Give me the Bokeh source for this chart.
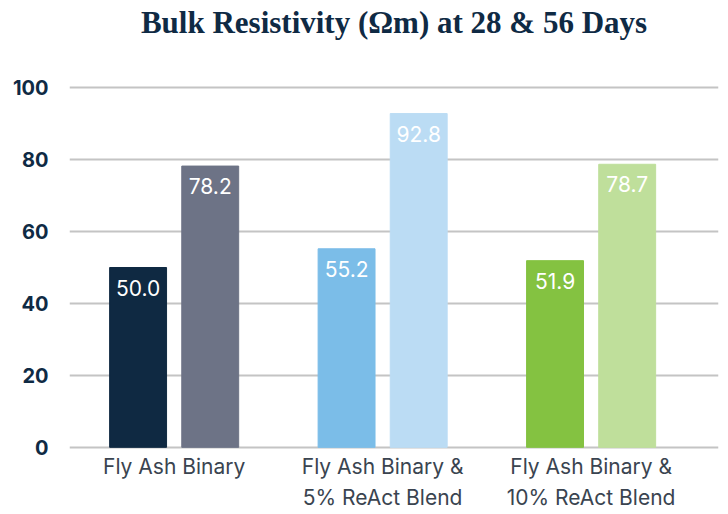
from bokeh.plotting import figure
from bokeh.models import ColumnDataSource, FixedTicker, Range1d, Title
from bokeh.embed import file_html
from bokeh.resources import INLINE

categories = ["Fly Ash Binary", "Fly Ash Binary &\n5% ReAct Blend", "Fly Ash Binary &\n10% ReAct Blend"]
days28 = [50.0, 55.2, 51.9]
days56 = [78.2, 92.8, 78.7]
colors28 = ["#0f2942", "#7bbde8", "#84c241"]
colors56 = ["#6d7386", "#bbdcf4", "#bfdf9b"]
y_ticks = [0, 20, 40, 60, 80, 100]

offset = 0.173
bar_w = 0.273
idx = list(range(len(categories)))

src28 = ColumnDataSource(dict(x=[i - offset for i in idx], top=days28, color=colors28,
                              label=[f"{v:.1f}" for v in days28]))
src56 = ColumnDataSource(dict(x=[i + offset for i in idx], top=days56, color=colors56,
                              label=[f"{v:.1f}" for v in days56]))

p = figure(width=726, height=512, output_backend="svg", toolbar_location=None,
           x_range=Range1d(-0.502, 2.611), y_range=Range1d(-0.6, 100.6),
           min_border_left=69, min_border_right=8, min_border_top=85, min_border_bottom=61)

p.title.text = "Bulk Resistivity (\u03a9m) at 28 & 56 Days"
p.title.align = "center"
p.title.text_font = "Liberation Serif"
p.title.text_font_style = "bold"
p.title.text_font_size = "31px"
p.title.text_color = "#0f2a44"
p.title.standoff = 3

# blank spacer between the title and the plot area
p.add_layout(Title(text=" ", text_font_size="31px", text_font="Liberation Serif", standoff=7), "above")

p.vbar(x="x", top="top", bottom=0, width=bar_w, color="color", source=src28)
p.vbar(x="x", top="top", bottom=0, width=bar_w, color="color", source=src56)

for s in (src28, src56):
    p.text(x="x", y="top", text="label", source=s, text_align="center", text_baseline="top",
           y_offset=12, text_color="white", text_font_size="21px", text_font={"value": "Inter"})

p.outline_line_color = None
p.xgrid.grid_line_color = None
p.ygrid.grid_line_color = "#c4c4c4"
p.ygrid.grid_line_width = 2
p.yaxis.ticker = FixedTicker(ticks=y_ticks)
p.xaxis.ticker = FixedTicker(ticks=idx)
p.xaxis.major_label_overrides = {i: c for i, c in zip(idx, categories)}

for ax in (p.xaxis, p.yaxis):
    ax.axis_line_color = None
    ax.major_tick_line_color = None
    ax.minor_tick_line_color = None
    ax.major_tick_out = 0
    ax.major_tick_in = 0
    ax.minor_tick_out = 0

p.yaxis.major_label_text_font = "Inter"
p.yaxis.major_label_text_font_size = "20px"
p.yaxis.major_label_text_color = "#0f2a44"
p.yaxis.major_label_standoff = 21
p.yaxis.major_label_text_font_style = "bold"

p.xaxis.major_label_text_font = "Inter"
p.xaxis.major_label_text_font_size = "21px"
p.xaxis.major_label_text_line_height = 1.25
p.xaxis.major_label_text_color = "#3a4450"
p.xaxis.major_label_standoff = 4

open("out.html", "w").write(file_html(p, INLINE))
